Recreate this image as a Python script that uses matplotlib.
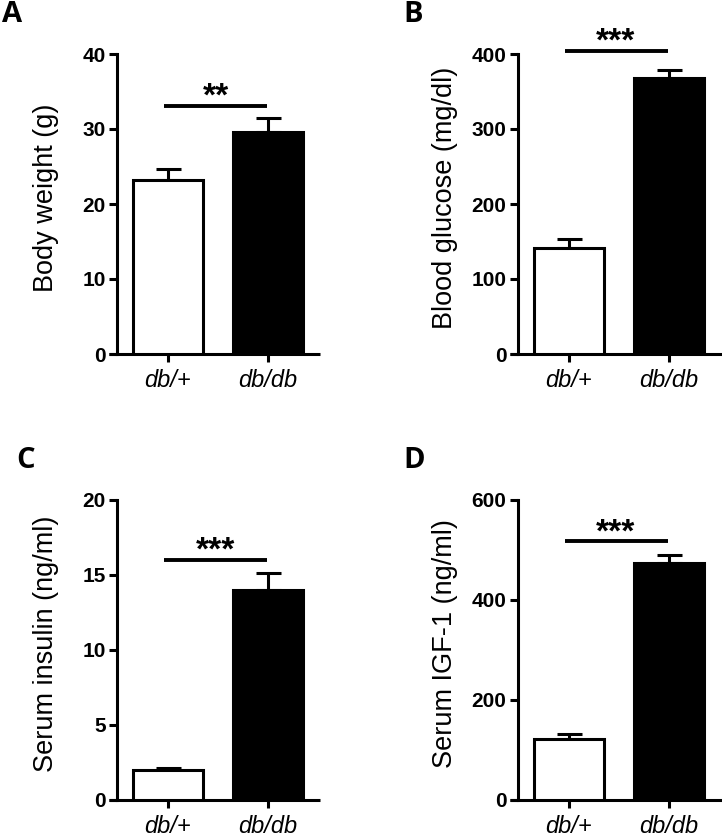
import numpy as np
import matplotlib
matplotlib.use('Agg')
import matplotlib.pyplot as plt

groups = ['db/+', 'db/db']

body_weight = [23.2, 29.6]
body_weight_err = [1.5, 1.8]
glucose = [142, 368]
glucose_err = [11, 11]
insulin = [1.97, 14.0]
insulin_err = [0.15, 1.1]
igf1 = [122, 473]
igf1_err = [10, 17]

panels = [
    ('A', body_weight, body_weight_err, 'Body weight (g)', [0, 10, 20, 30, 40], 33.1, '**'),
    ('B', glucose, glucose_err, 'Blood glucose (mg/dl)', [0, 100, 200, 300, 400], 404, '***'),
    ('C', insulin, insulin_err, 'Serum insulin (ng/ml)', [0, 5, 10, 15, 20], 16.0, '***'),
    ('D', igf1, igf1_err, 'Serum IGF-1 (ng/ml)', [0, 200, 400, 600], 517, '***'),
]

W, H = 722, 834
fig = plt.figure(figsize=(W / 100, H / 100), dpi=100)

# axes boxes in pixels: left, top, right-xlim
boxes = {
    'A': (109, 54, 1.52),
    'B': (509.5, 54, 1.55),
    'C': (109, 499.7, 1.52),
    'D': (509.5, 499.7, 1.55),
}
letter_pos = {'A': (12, 14), 'B': (413, 14), 'C': (26, 460), 'D': (414, 460)}

lw = 2.2
for name, vals, errs, ylab, yticks, sig_y, stars in panels:
    left, top, xr = boxes[name]
    width = (xr + 0.59) * 100
    height = 300
    ax = fig.add_axes([left / W, 1 - (top + height) / H, width / W, height / H])
    x = np.arange(len(groups))
    ax.bar(x, vals, width=0.7, color=['white', 'black'], edgecolor='black', linewidth=lw, zorder=3)
    ax.errorbar(x, vals, yerr=[np.zeros(len(errs)), errs], fmt='none', ecolor='black',
                elinewidth=lw, capsize=9, capthick=lw, zorder=2)
    ax.set_xlim(-0.59, xr)
    ax.set_ylim(0, yticks[-1])
    ax.spines['top'].set_visible(False)
    ax.spines['right'].set_visible(False)
    ax.spines['left'].set_position(('data', -0.51))
    ax.spines['left'].set_linewidth(lw)
    ax.spines['bottom'].set_linewidth(lw)
    ax.spines['bottom'].set_capstyle('butt')
    ax.tick_params(axis='y', length=6, width=lw, pad=2, labelsize=15)
    ax.tick_params(axis='x', length=6, width=lw, pad=5, labelsize=17)
    ax.set_yticks(yticks)
    ax.set_xticks(x)
    ax.set_xticklabels(groups, fontstyle='italic', family='Liberation Sans')
    for t in ax.yaxis.get_major_ticks():
        t.label1.set_fontweight('bold')
        t.label1.set_family('Liberation Sans')
    ax.set_ylabel(ylab, fontsize=19.5, family='Liberation Sans', va='center')
    ax.yaxis.set_label_coords(-0.30, 0.52)

    # significance bar
    ax.plot([-0.04, 0.99], [sig_y, sig_y], color='black', linewidth=lw + 0.6,
            solid_capstyle='butt', clip_on=False)
    ax.annotate(stars, xy=(0.475, sig_y), xytext=(0, -5), textcoords='offset points',
                ha='center', va='bottom', fontsize=24, fontweight='bold',
                family='Liberation Sans', annotation_clip=False)

    lx, ly = letter_pos[name]
    fig.text(lx / W, 1 - ly / H, name, fontsize=21, fontweight='bold',
             family='Open Sans', ha='center', va='center')

fig.savefig('out.png', dpi=100)
